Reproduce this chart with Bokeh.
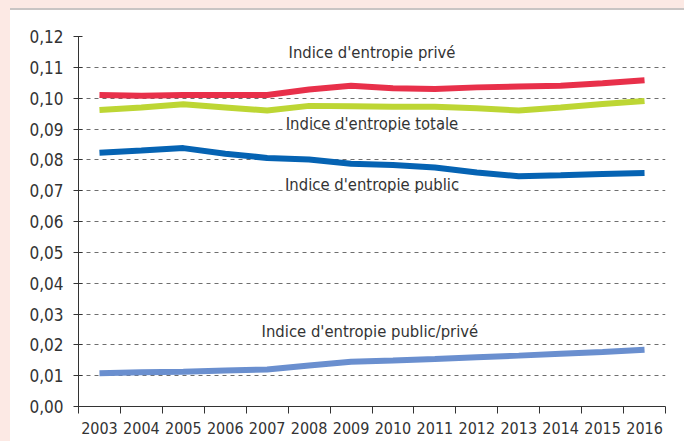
from bokeh.plotting import figure
from bokeh.models import FixedTicker, ColumnDataSource
from bokeh.core.properties import value
from bokeh.embed import file_html
from bokeh.resources import INLINE

years = [2003, 2004, 2005, 2006, 2007, 2008, 2009, 2010, 2011, 2012, 2013, 2014, 2015, 2016]
prive = [0.1010, 0.1008, 0.1010, 0.1010, 0.1010, 0.1028, 0.1040, 0.1032, 0.1030, 0.1035, 0.1038, 0.1040, 0.1048, 0.1058]
totale = [0.0962, 0.0970, 0.0980, 0.0970, 0.0960, 0.0975, 0.0974, 0.0972, 0.0972, 0.0967, 0.0960, 0.0970, 0.0981, 0.0991]
public = [0.0823, 0.0830, 0.0838, 0.0820, 0.0806, 0.0801, 0.0787, 0.0783, 0.0775, 0.0759, 0.0747, 0.0750, 0.0754, 0.0757]
public_prive = [0.0108, 0.0111, 0.0113, 0.0117, 0.0120, 0.0133, 0.0145, 0.0149, 0.0154, 0.0160, 0.0165, 0.0171, 0.0177, 0.0184]

y_ticks = [0.00, 0.01, 0.02, 0.03, 0.04, 0.05, 0.06, 0.07, 0.08, 0.09, 0.10, 0.11, 0.12]
y_tick_labels = ["0,00", "0,01", "0,02", "0,03", "0,04", "0,05", "0,06", "0,07", "0,08", "0,09", "0,10", "0,11", "0,12"]

label_texts = ["Indice d'entropie privé", "Indice d'entropie totale", "Indice d'entropie public", "Indice d'entropie public/privé"]
label_x = [2009.5, 2009.5, 2009.5, 2009.45]
label_y = [0.1147, 0.0917, 0.0719, 0.0243]

FONT = "DejaVu Sans Condensed"
TEXT_COL = "#333333"

p = figure(width=674, height=431, output_backend="svg", toolbar_location=None,
           x_range=(years[0] - 0.5, years[-1] + 0.5), y_range=(0, 0.12),
           min_border_left=68, min_border_right=19, min_border_top=26, min_border_bottom=35)
p.styles = {"border-top": "2px solid #c9c5c4"}
p.background_fill_color = "white"
p.border_fill_color = "white"
p.outline_line_color = None

# grid
p.xgrid.grid_line_color = None
p.ygrid.grid_line_color = "#6e6e6e"
p.ygrid.grid_line_dash = "4 4"
p.ygrid.grid_line_width = 1
p.ygrid.ticker = FixedTicker(ticks=y_ticks)

# y axis
p.yaxis.ticker = FixedTicker(ticks=y_ticks)
p.yaxis.major_label_overrides = {t: l for t, l in zip(y_ticks, y_tick_labels)}
p.yaxis.major_tick_in = 4
p.yaxis.major_tick_out = 5
p.yaxis.minor_tick_line_color = None
p.yaxis.axis_line_color = "#333333"
p.yaxis.major_tick_line_color = "#333333"
p.yaxis.major_label_text_font = FONT
p.yaxis.major_label_text_font_size = "17px"
p.yaxis.major_label_text_color = TEXT_COL
p.yaxis.major_label_standoff = 10

# x axis: labels at year centres, ticks at boundaries
bounds = [y - 0.5 for y in years] + [years[-1] + 0.5]
p.xaxis.ticker = FixedTicker(ticks=years, minor_ticks=bounds)
p.xaxis.major_label_overrides = {y: str(y) for y in years}
p.xaxis.major_tick_line_color = None
p.xaxis.minor_tick_line_color = "#333333"
p.xaxis.minor_tick_in = 0
p.xaxis.minor_tick_out = 7
p.xaxis.axis_line_color = "#333333"
p.xaxis.major_label_text_font = FONT
p.xaxis.major_label_text_font_size = "16px"
p.xaxis.major_label_text_color = TEXT_COL
p.xaxis.major_label_standoff = 8

src = ColumnDataSource(dict(years=years, prive=prive, totale=totale, public=public, pp=public_prive))
lw = 6
p.line("years", "prive", source=src, line_color="#e8304a", line_width=lw)
p.line("years", "totale", source=src, line_color="#bdd634", line_width=lw)
p.line("years", "public", source=src, line_color="#0563b3", line_width=lw)
p.line("years", "pp", source=src, line_color="#6a8fcf", line_width=lw)

lsrc = ColumnDataSource(dict(x=label_x, y=label_y, t=label_texts))
p.text("x", "y", text="t", source=lsrc, text_align="center", text_baseline="middle",
       text_font=value(FONT), text_font_size="16.5px", text_color=TEXT_COL)

html = file_html(p, INLINE)
css = ("<style>html { background-color: #ffffff; } "
       "body { margin: 0; padding: 0; background-color: #ffffff; overflow: hidden; "
       "box-sizing: border-box; width: 684px; "
       "border-top: 8px solid #fce9e4; border-left: 10px solid #fce9e4; }</style>")
html = html.replace("</head>", css + "</head>", 1)
open("out.html", "w").write(html)
